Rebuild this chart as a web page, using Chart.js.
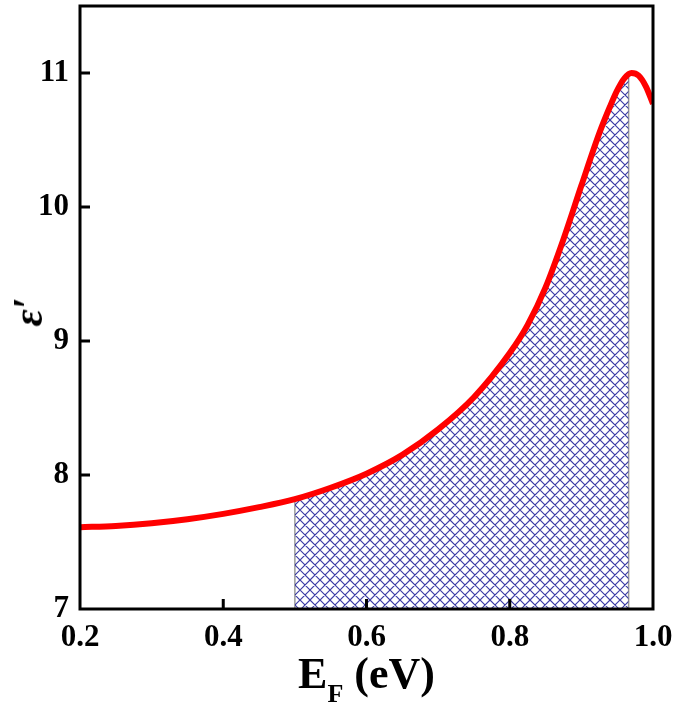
<!DOCTYPE html>
<html>
<head>
<meta charset="utf-8">
<script src="https://cdn.jsdelivr.net/npm/chart.js@4.4.0/dist/chart.umd.min.js"></script>
<style>
  body { margin: 0; background: #fff; }
  #wrap { position: relative; width: 675px; height: 709px; }
  #xTitle {
    position: absolute; left: 80px; width: 573px; top: 648px;
    text-align: center; font: bold 44px 'Liberation Serif', serif; color: #000;
  }
  #xTitle sub { font-size: 26px; vertical-align: -14px; }
  #yTitle {
    position: absolute; left: 28px; top: 312px;
    transform: translate(-50%, -50%) rotate(-90deg);
    font: italic bold 42px 'Liberation Serif', serif; color: #000; white-space: nowrap;
  }
</style>
</head>
<body>
<div id="wrap">
  <canvas id="epsChart" width="675" height="709"></canvas>
  <div id="xTitle">E<sub>F</sub> (eV)</div>
  <div id="yTitle">ε′</div>
</div>
<script>
// values
const energy  = [0.2, 0.25, 0.3, 0.35, 0.4, 0.45, 0.5, 0.55, 0.6, 0.65, 0.7, 0.75, 0.8, 0.825, 0.85, 0.875, 0.9, 0.925, 0.94, 0.95, 0.96, 0.97, 0.98, 0.99, 1.0];
const epsilon = [7.61, 7.62, 7.64, 7.67, 7.71, 7.76, 7.82, 7.905, 8.01, 8.15, 8.34, 8.58, 8.91, 9.12, 9.40, 9.76, 10.16, 10.55, 10.75, 10.87, 10.96, 11.0, 10.98, 10.9, 10.77];
const shadeStart = 0.5;
const shadeEnd = 0.966;
const shadeEndValue = 10.99;
const xTicks = [0.2, 0.4, 0.6, 0.8, 1.0];
const yTicks = [7, 8, 9, 10, 11];
const xInnerTicks = [0.4, 0.6, 0.8];
const yInnerTicks = [8, 9, 10, 11];

const curve = energy.map((x, i) => ({ x: x, y: epsilon[i] }));
const shaded = curve.filter(p => p.x >= shadeStart && p.x < shadeEnd);
shaded.push({ x: shadeEnd, y: shadeEndValue });
const startTop = shaded[0].y;

function hatchPattern() {
    const n = 20;
    const c = document.createElement('canvas');
    c.width = n; c.height = n;
    const g = c.getContext('2d');
    g.strokeStyle = 'rgba(40,40,155,0.9)';
    g.lineWidth = 1.2;
    g.beginPath();
    for (let k = -n; k <= n; k += n / 2) {
        g.moveTo(k, 0); g.lineTo(k + n, n);
        g.moveTo(k, n); g.lineTo(k + n, 0);
    }
    g.stroke();
    return g.createPattern(c, 'repeat');
}

const framePlugin = {
    id: 'frame',
    afterDraw(chart) {
        const { ctx, chartArea: a, scales } = chart;
        ctx.save();
        ctx.strokeStyle = '#000';
        ctx.lineWidth = 3;
        ctx.strokeRect(a.left, a.top, a.right - a.left, a.bottom - a.top);
        ctx.beginPath();
        xInnerTicks.forEach(v => {
            const px = scales.x.getPixelForValue(v);
            ctx.moveTo(px, a.bottom); ctx.lineTo(px, a.bottom - 10);
        });
        yInnerTicks.forEach(v => {
            const py = scales.y.getPixelForValue(v);
            ctx.moveTo(a.left, py); ctx.lineTo(a.left + 10, py);
        });
        ctx.stroke();
        ctx.restore();
    }
};

const tickFont = { family: "'Liberation Serif', serif", size: 31, weight: 'bold' };

new Chart(document.getElementById('epsChart').getContext('2d'), {
    type: 'line',
    data: {
        datasets: [
            { data: curve, borderColor: '#ff0000', borderWidth: 6, pointRadius: 0, cubicInterpolationMode: 'monotone', fill: false },
            { data: shaded, borderColor: 'rgba(0,0,0,0)', borderWidth: 0, pointRadius: 0, cubicInterpolationMode: 'monotone',
              fill: { value: 7 }, backgroundColor: hatchPattern() },
            { data: [{ x: shadeStart, y: 7 }, { x: shadeStart, y: startTop }], borderColor: '#9a9a9a', borderWidth: 1.5, pointRadius: 0, fill: false },
            { data: [{ x: shadeEnd, y: 7 }, { x: shadeEnd, y: shadeEndValue }], borderColor: '#9a9a9a', borderWidth: 1.5, pointRadius: 0, fill: false }
        ]
    },
    options: {
        responsive: false, animation: false,
        layout: { padding: { top: 6, right: 22, left: 0, bottom: 0 } },
        plugins: { legend: { display: false }, tooltip: { enabled: false } },
        scales: {
            x: {
                type: 'linear', min: 0.2, max: 1.0,
                grid: { display: false, drawTicks: false }, border: { display: false },
                afterBuildTicks: s => { s.ticks = xTicks.map(v => ({ value: v })); },
                afterFit: s => { s.height = 100; s.paddingLeft = 0; s.paddingRight = 0; },
                ticks: { font: tickFont, color: '#000', padding: 10, maxRotation: 0, callback: v => v.toFixed(1) }
            },
            y: {
                min: 7, max: 11.5,
                grid: { display: false, drawTicks: false }, border: { display: false },
                afterBuildTicks: s => { s.ticks = yTicks.map(v => ({ value: v })); },
                afterFit: s => { s.width = 80; s.paddingTop = 0; s.paddingBottom = 0; },
                ticks: { font: tickFont, color: '#000', padding: 11, callback: v => String(v) }
            }
        }
    },
    plugins: [framePlugin]
});
</script>
</body>
</html>
